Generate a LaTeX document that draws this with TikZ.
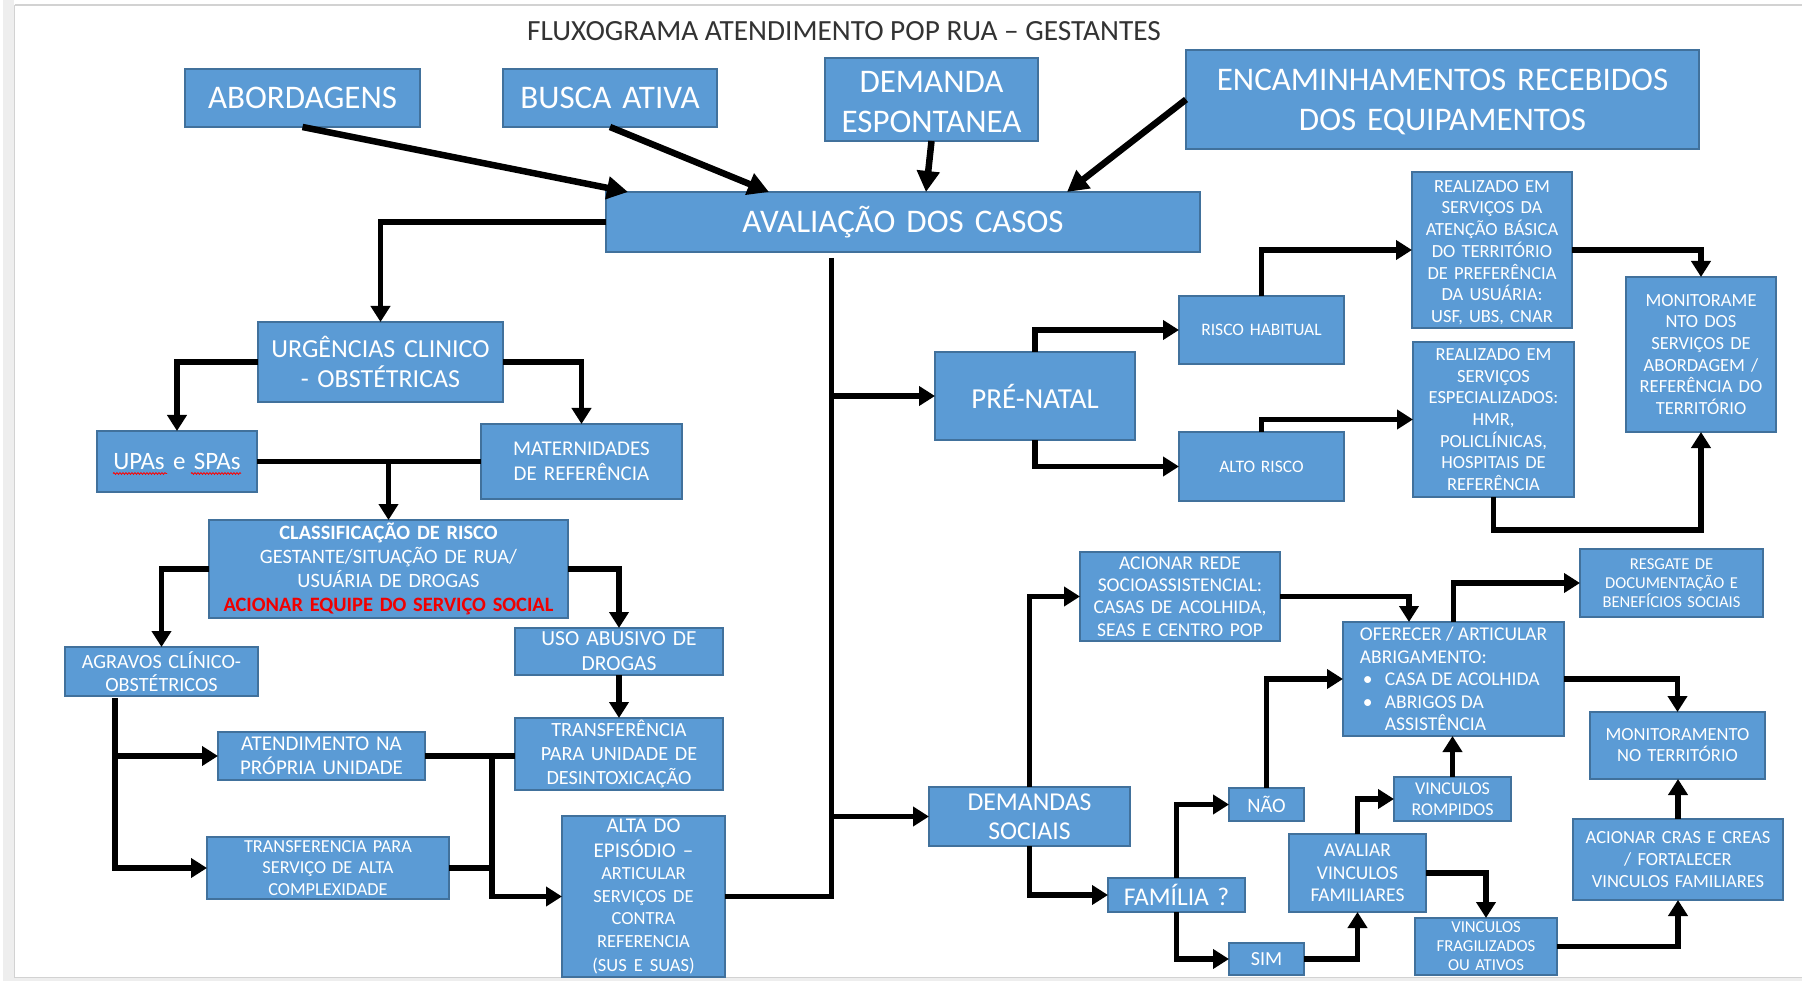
\documentclass[tikz,border=0pt]{standalone}
\usepackage{fontspec}
\setmainfont{Carlito}
\usetikzlibrary{arrows.meta,calc,decorations.pathmorphing}

\definecolor{boxfill}{HTML}{5B9BD5}
\definecolor{boxline}{HTML}{41719C}
\definecolor{slidegray}{HTML}{EEEEEE}
\definecolor{slideedge}{HTML}{D2D2D2}
\definecolor{titleink}{HTML}{333333}
\definecolor{alertred}{HTML}{F00000}

\newcommand{\fs}[2]{\fontsize{#1}{#2}\selectfont}
\newcommand{\sm}{\fs{18.5}{21.7}}

\begin{document}
\begin{tikzpicture}[x=1pt,y=-1pt,
  box/.style={draw=boxline, fill=boxfill, line width=2pt, text=white,
    align=center, inner sep=0pt, outer sep=0pt},
  flow/.style={line width=5.5pt, line join=miter, -{Triangle[length=16pt,width=19pt]}},
  link/.style={line width=5.5pt, line join=miter},
  feed/.style={line width=6.5pt, -{Triangle[length=21pt,width=22pt]}},
  squiggle/.style={draw=red, line width=0.8pt,
    decorate, decoration={snake, amplitude=0.9pt, segment length=3pt}}
]
\useasboundingbox (0,0) rectangle (1802,981);

% slide background and its edge
\fill[white] (0,0) rectangle (1802,981);
\fill[slidegray] (3,0) rectangle (14,981);
\fill[slidegray] (3,977) rectangle (1802,981);
\draw[slideedge, line width=1.2pt] (14.5,5) -- (1802,5);
\draw[slideedge, line width=1.5pt] (14.5,5) -- (14.5,977.5) -- (1802,977.5);

% title
\node[text=titleink, font=\fs{29.3}{34}, inner sep=0pt] (title) at (844,31)
  {FLUXOGRAMA ATENDIMENTO POP RUA – GESTANTES};

% entry points
\node[box, minimum width=235, minimum height=58, text width=229, font=\fs{33}{40}] (abord) at (302.5,98) {ABORDAGENS};
\node[box, minimum width=214, minimum height=58, text width=208, font=\fs{33}{40}] (busca) at (610,98) {BUSCA ATIVA};
\node[box, minimum width=213, minimum height=83, text width=207, font=\fs{33}{40}] (demanda) at (931.5,99.5) {\rule{0pt}{27pt}DEMANDA\\ESPONTANEA};
\node[box, minimum width=513, minimum height=99, text width=507, font=\fs{33}{40}] (encam) at (1442.5,99.5) {\rule{0pt}{27pt}ENCAMINHAMENTOS RECEBIDOS\\DOS EQUIPAMENTOS};
\node[box, minimum width=594, minimum height=60, text width=588, font=\fs{33}{40}] (aval) at (903,222) {AVALIAÇÃO DOS CASOS};

% urgent care branch
\node[box, minimum width=245, minimum height=80, text width=239, font=\fs{26}{30}] (urg) at (380.5,362) {URGÊNCIAS CLINICO\\- OBSTÉTRICAS};
\node[box, minimum width=160, minimum height=61, text width=154, font=\fs{25}{30}] (upas) at (177,461.5) {UPAs e SPAs};
\node[box, minimum width=201, minimum height=75, text width=195, font=\fs{21}{25}] (mat) at (581.5,461.5) {MATERNIDADES\\DE REFERÊNCIA};
\node[box, minimum width=359, minimum height=98, text width=353, font=\fs{20.4}{24}] (class) at (388.5,569)
  {{\bfseries CLASSIFICAÇÃO DE RISCO}\\GESTANTE/SITUAÇÃO DE RUA/\\USUÁRIA DE DROGAS\\{\bfseries\color{alertred}ACIONAR EQUIPE DO SERVIÇO SOCIAL}};
\node[box, minimum width=193, minimum height=49, text width=187, font=\fs{20.2}{23}] (agrav) at (161.5,671.5) {AGRAVOS CLÍNICO-\\OBSTÉTRICOS};
\node[box, minimum width=208, minimum height=47, text width=202, font=\fs{21.5}{25}] (uso) at (619,651.5) {USO ABUSIVO DE\\DROGAS};
\node[box, minimum width=208, minimum height=72, text width=202, font=\fs{20.2}{24}] (desint) at (619,754) {TRANSFERÊNCIA\\PARA UNIDADE DE\\DESINTOXICAÇÃO};
\node[box, minimum width=207, minimum height=48, text width=201, font=\fs{21}{24}] (atend) at (321.5,756) {ATENDIMENTO NA\\PRÓPRIA UNIDADE};
\node[box, minimum width=242, minimum height=62, text width=236, font=\fs{18.3}{21.3}] (talta) at (328,868) {TRANSFERENCIA PARA\\SERVIÇO DE ALTA\\COMPLEXIDADE};
\node[box, minimum width=163, minimum height=161, text width=157, font=\fs{21}{24.5}] (alta) at (643.5,896.5)
  {ALTA DO\\EPISÓDIO –\\\fs{18.5}{22.5}ARTICULAR\\\fs{18.5}{22.5}SERVIÇOS DE\\\fs{18.5}{22.5}CONTRA\\\fs{18.5}{22.5}REFERENCIA\\\fs{18.5}{22.5}(SUS E SUAS)};

% prenatal branch
\node[box, minimum width=200, minimum height=88, text width=194, font=\fs{29}{34}] (prenatal) at (1035,396) {PRÉ-NATAL};
\node[box, minimum width=165, minimum height=68, text width=159, font=\fs{17.5}{21}] (riscoh) at (1261.5,330) {RISCO HABITUAL};
\node[box, minimum width=165, minimum height=69, text width=159, font=\fs{17.5}{21}] (alto) at (1261.5,466.5) {ALTO RISCO};
\node[box, minimum width=160, minimum height=156, text width=154, font=\sm] (realab) at (1492,250)
  {\rule{0pt}{17pt}REALIZADO EM\\SERVIÇOS DA\\ATENÇÃO BÁSICA\\DO TERRITÓRIO\\DE PREFERÊNCIA\\DA USUÁRIA:\\USF, UBS, CNAR};
\node[box, minimum width=161, minimum height=155, text width=155, font=\sm] (realesp) at (1493.5,419.5)
  {REALIZADO EM\\SERVIÇOS\\ESPECIALIZADOS:\\HMR,\\POLICLÍNICAS,\\HOSPITAIS DE\\REFERÊNCIA};
\node[box, minimum width=150, minimum height=155, text width=144, font=\sm] (monserv) at (1701,354.5)
  {MONITORAME\\NTO DOS\\SERVIÇOS DE\\ABORDAGEM /\\REFERÊNCIA DO\\TERRITÓRIO};

% social demands branch
\node[box, minimum width=201, minimum height=59, text width=195, font=\fs{25.7}{29.5}] (demsoc) at (1029.5,816.5) {DEMANDAS\\SOCIAIS};
\node[box, minimum width=200, minimum height=89, text width=194, font=\fs{19.5}{22.3}] (acrede) at (1180,596.5)
  {ACIONAR REDE\\SOCIOASSISTENCIAL:\\CASAS DE ACOLHIDA,\\SEAS E CENTRO POP};
\node[box, minimum width=221, minimum height=114, align=left, font=\fs{19.5}{22.4}] (ofer) at (1453.5,679)
  {OFERECER / ARTICULAR\\ABRIGAMENTO:\\\makebox[25pt][l]{\hspace{3pt}\textbullet}CASA DE ACOLHIDA\\\makebox[25pt][l]{\hspace{3pt}\textbullet}ABRIGOS DA\\\hspace*{25pt}ASSISTÊNCIA};
\node[box, minimum width=183, minimum height=68, text width=177, font=\fs{16.6}{19}] (resg) at (1671.5,583)
  {RESGATE DE\\DOCUMENTAÇÃO E\\BENEFÍCIOS SOCIAIS};
\node[box, minimum width=175, minimum height=67, text width=169, font=\fs{18.5}{21}] (monterr) at (1677.5,745.5)
  {MONITORAMENTO\\NO TERRITÓRIO};
\node[box, minimum width=210, minimum height=81, text width=204, font=\sm] (cras) at (1678,859.5)
  {ACIONAR CRAS E CREAS\\/ FORTALECER\\VINCULOS FAMILIARES};
\node[box, minimum width=75, minimum height=33, text width=69, font=\fs{20.5}{24}] (nao) at (1266.5,804.5) {NÃO};
\node[box, minimum width=137, minimum height=34, text width=131, font=\fs{25.5}{30}] (fam) at (1176.5,895) {FAMÍLIA ?};
\node[box, minimum width=75, minimum height=32, text width=69, font=\fs{20}{24}] (sim) at (1266.5,959) {SIM};
\node[box, minimum width=137, minimum height=78, text width=131, font=\fs{19.5}{22.5}] (avaliar) at (1357.5,873)
  {AVALIAR\\VINCULOS\\FAMILIARES};
\node[box, minimum width=117, minimum height=44, text width=111, font=\fs{18}{21.5}] (vrom) at (1452.5,799)
  {VINCULOS\\ROMPIDOS};
\node[box, minimum width=142, minimum height=57, text width=136, font=\fs{16.7}{19}] (vfrag) at (1486,946.5)
  {VINCULOS\\FRAGILIZADOS\\OU ATIVOS};

% spell-check marks under UPAs and SPAs
\draw[squiggle] ($(upas.west)+(16,12)$) -- ($(upas.west)+(70,12)$);
\draw[squiggle] ($(upas.west)+(94,12)$) -- ($(upas.west)+(144,12)$);

% junction points
\coordinate (tk) at ($(aval.south west)+(225,6)$);
\coordinate (ag) at ($(agrav.south west)+(50,2)$);
\coordinate (mj) at ($(atend.east -| desint.west)+(-23,0)$);
\coordinate (uj) at (upas.east -| class.north);

% entry arrows
\draw[feed] (abord.south) -- ($(aval.north west)+(22,0)$);
\draw[feed] (busca.south) -- ($(aval.north west)+(163,0)$);
\draw[feed] (demanda.south) -- ($(aval.north west)+(320,0)$);
\draw[feed] (encam.west) -- ($(aval.north west)+(461,0)$);

% urgent care connectors
\draw[flow] (aval.west) -| (urg.north);
\draw[flow] (urg.west) -| (upas.north);
\draw[flow] (urg.east) -| (mat.north);
\draw[link] (upas.east) -- (mat.west);
\draw[flow] (uj) -- (class.north);
\draw[flow] (class.west) -| (agrav.north);
\draw[flow] (class.east) -| (uso.north);
\draw[flow] (uso.south) -- (desint.north);
\draw[flow] (ag) |- (atend.west);
\draw[flow] (ag) |- (talta.west);
\draw[link] (atend.east) -- (atend.east -| desint.west);
\draw[link] (talta.east) -- (talta.east -| mj);
\draw[flow] (mj) |- (alta.west);

% main trunk
\draw[link, line width=5pt] (tk) |- (alta.east);
\draw[flow] (tk |- prenatal.west) -- (prenatal.west);
\draw[flow] (tk |- demsoc.west) -- (demsoc.west);

% prenatal connectors
\draw[flow] (prenatal.north) |- (riscoh.west);
\draw[flow] (prenatal.south) |- (alto.west);
\draw[flow] (riscoh.north) |- (realab.west);
\draw[flow] (alto.north) |- (realesp.west);
\draw[flow] (realab.east) -| (monserv.north);
\draw[flow] (realesp.south) -- ++(0,33) -| (monserv.south);

% social demand connectors
\draw[flow] (demsoc.north) |- (acrede.west);
\draw[flow] (acrede.east) -| ($(ofer.north west)+(66,0)$);
\draw[flow] (ofer.north) |- (resg.west);
\draw[flow] (ofer.east) -| (monterr.north);
\draw[flow] (cras.north) -- (cras.north |- monterr.south);
\draw[flow] (demsoc.south) |- (fam.west);
\draw[flow] (fam.north) |- (nao.west);
\draw[flow] (fam.south) |- (sim.west);
\draw[flow] (nao.north) |- (ofer.west);
\draw[flow] (sim.east) -| (avaliar.south);
\draw[flow] (avaliar.north) |- (vrom.west);
\draw[flow] (vrom.north) -- (vrom.north |- ofer.south);
\draw[flow] (avaliar.east) -| (vfrag.north);
\draw[flow] (vfrag.east) -| (cras.south);
\end{tikzpicture}
\end{document}
